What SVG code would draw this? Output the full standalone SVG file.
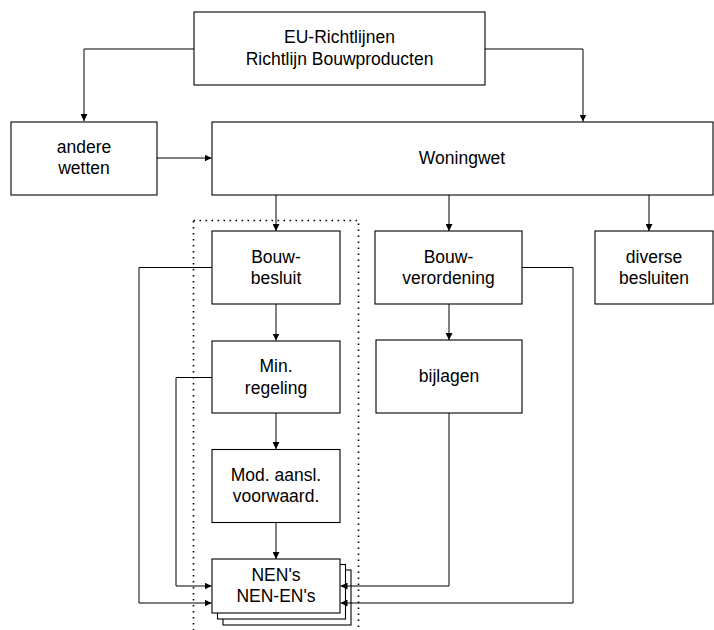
<svg xmlns="http://www.w3.org/2000/svg" width="714" height="630" viewBox="0 0 714 630">
<defs>
<style>
.box{fill:#fff;stroke:#000;stroke-width:1.1}
.t{font-family:"Liberation Sans",Arial,sans-serif;font-size:17.5px;fill:#000;text-anchor:middle}
.c{fill:none;stroke:#000;stroke-width:1}
.dot{fill:none;stroke:#000;stroke-width:1.6;stroke-dasharray:1.6 4.4}
</style>
<marker id="ah" viewBox="0 0 10 10" refX="10" refY="5" markerWidth="7" markerHeight="7" markerUnits="userSpaceOnUse" orient="auto">
<path d="M0,0 L10,5 L0,10 z" fill="#000"/>
</marker>
</defs>
<rect width="714" height="630" fill="#fff"/>

<g id="group-dotted">
<rect class="dot" x="193.5" y="220.5" width="165" height="430"/>
</g>

<g id="connectors">
<polyline class="c" points="194,49 84,49 84,121" marker-end="url(#ah)"/>
<polyline class="c" points="485,49 583,49 583,121.5" marker-end="url(#ah)"/>
<line class="c" x1="157" y1="158" x2="211.5" y2="158" marker-end="url(#ah)"/>
<line class="c" x1="276" y1="195" x2="276" y2="231" marker-end="url(#ah)"/>
<line class="c" x1="449" y1="195" x2="449" y2="231" marker-end="url(#ah)"/>
<line class="c" x1="649" y1="195" x2="649" y2="231" marker-end="url(#ah)"/>
<line class="c" x1="276" y1="304" x2="276" y2="340.5" marker-end="url(#ah)"/>
<line class="c" x1="276" y1="413" x2="276" y2="449" marker-end="url(#ah)"/>
<line class="c" x1="276" y1="523" x2="276" y2="559" marker-end="url(#ah)"/>
<line class="c" x1="449" y1="304" x2="449" y2="340" marker-end="url(#ah)"/>
<polyline class="c" points="212,267.5 139,267.5 139,603 211.5,603" marker-end="url(#ah)"/>
<polyline class="c" points="212,377.5 176,377.5 176,586 211.5,586" marker-end="url(#ah)"/>
</g>

<g id="node-eu">
<rect class="box" x="194" y="12" width="291" height="73"/>
<text class="t" x="339.5" y="43.3">EU-Richtlijnen</text>
<text class="t" x="339.5" y="65">Richtlijn Bouwproducten</text>
</g>

<g id="node-andere">
<rect class="box" x="11" y="122" width="146" height="73"/>
<text class="t" x="84" y="153.3">andere</text>
<text class="t" x="84" y="174">wetten</text>
</g>

<g id="node-woningwet">
<rect class="box" x="212" y="122" width="501" height="73"/>
<text class="t" x="462" y="163.7">Woningwet</text>
</g>

<g id="node-bouwbesluit">
<rect class="box" x="212" y="231" width="128" height="73"/>
<text class="t" x="276" y="262.7">Bouw-</text>
<text class="t" x="276" y="284">besluit</text>
</g>

<g id="node-bouwverordening">
<rect class="box" x="375" y="231" width="147" height="73"/>
<text class="t" x="448.5" y="262.7">Bouw-</text>
<text class="t" x="448.5" y="284">verordening</text>
</g>

<g id="node-diverse">
<rect class="box" x="595" y="231" width="118" height="73"/>
<text class="t" x="654" y="262.7">diverse</text>
<text class="t" x="654" y="284">besluiten</text>
</g>

<g id="node-minregeling">
<rect class="box" x="212" y="341" width="128" height="72"/>
<text class="t" x="276" y="372.3">Min.</text>
<text class="t" x="276" y="393.5">regeling</text>
</g>

<g id="node-bijlagen">
<rect class="box" x="376" y="340" width="146" height="73"/>
<text class="t" x="449" y="381.7">bijlagen</text>
</g>

<g id="node-mod">
<rect class="box" x="212" y="449.5" width="128" height="73"/>
<text class="t" x="276" y="480.8">Mod. aansl.</text>
<text class="t" x="276" y="502.2">voorwaard.</text>
</g>

<g id="node-nen">
<rect class="box" x="223" y="570" width="128" height="55"/>
<rect class="box" x="217.5" y="564.5" width="128" height="54.5"/>
<rect class="box" x="212" y="559" width="128" height="54"/>
<text class="t" x="276" y="581">NEN's</text>
<text class="t" x="276" y="602.3">NEN-EN's</text>
</g>

<g id="connectors-right">
<polyline class="c" points="449,413 449,586 340.5,586" marker-end="url(#ah)"/>
<polyline class="c" points="522,267.5 573,267.5 573,603 340.5,603" marker-end="url(#ah)"/>
</g>
</svg>
